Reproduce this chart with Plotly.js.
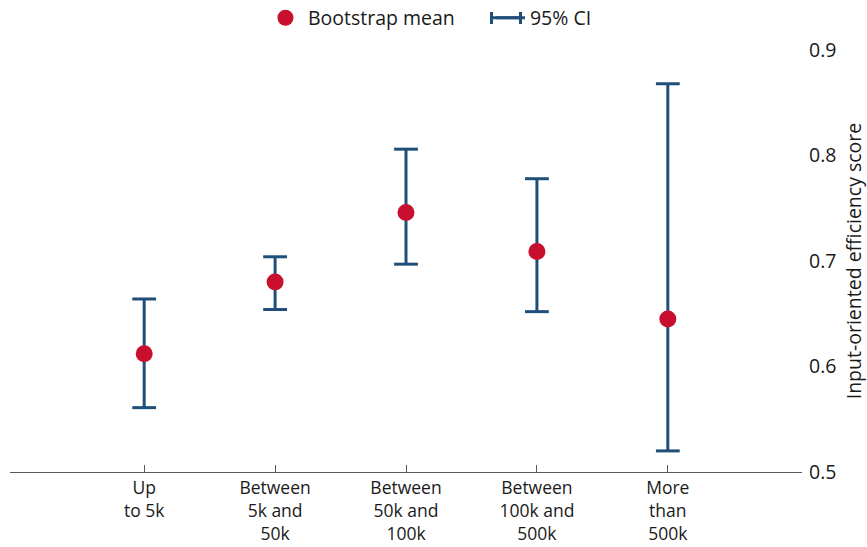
<!DOCTYPE html>
<html>
<head>
<meta charset="utf-8">
<script src="https://cdn.plot.ly/plotly-3.0.1.min.js"></script>
<style>html,body{margin:0;padding:0;background:#fff;}#chart{width:867px;height:547px;}</style>
</head>
<body>
<div id="chart"></div>
<script>
const categories = ["Up<br>to 5k", "Between<br>5k and<br>50k", "Between<br>50k and<br>100k", "Between<br>100k and<br>500k", "More<br>than<br>500k"];
const meanValues = [0.612, 0.680, 0.746, 0.709, 0.645];
const upperCI = [0.664, 0.704, 0.806, 0.778, 0.868];
const lowerCI = [0.561, 0.654, 0.697, 0.652, 0.520];
const yTicks = [0.5, 0.6, 0.7, 0.8, 0.9];
const yTickLabels = ["0.5", "0.6", "0.7", "0.8", "0.9"];

const blue = "#1F4E79";
const red = "#C8102E";
const font = "'Open Sans', Lato, sans-serif";

// CI segments built from data
const ciX = [], ciY = [];
categories.forEach((c, i) => { ciX.push(c, c, null); ciY.push(lowerCI[i], upperCI[i], null); });

const traces = [
  {
    type: "scatter", mode: "lines+markers", name: "95% CI",
    x: ciX, y: ciY,
    line: {color: blue, width: 3},
    marker: {symbol: "line-ew", size: 17, color: blue, line: {color: blue, width: 3}},
    hoverinfo: "skip", cliponaxis: false
  },
  {
    type: "scatter", mode: "markers", name: "Bootstrap mean",
    x: categories, y: meanValues,
    marker: {color: red, size: 17, symbol: "circle"},
    cliponaxis: false
  }
];

// legend-icon end caps for the CI entry (decoration)
const capShape = (px) => ({
  type: "line", xref: "paper", yref: "paper", layer: "above",
  xsizemode: "pixel", ysizemode: "pixel",
  xanchor: (px - 10) / 792, yanchor: (472 - 18) / 422,
  x0: 0, x1: 0, y0: -6, y1: 6,
  line: {color: blue, width: 3}
});

const layout = {
  width: 867, height: 547,
  margin: {l: 10, r: 65, t: 50, b: 75},
  paper_bgcolor: "#fff", plot_bgcolor: "#fff",
  font: {family: font, size: 18, color: "#1a1a1a"},
  showlegend: true,
  legend: {
    orientation: "h", traceorder: "reversed",
    xref: "container", yref: "container",
    x: 0.3033, xanchor: "left", y: 0.967, yanchor: "middle",
    bgcolor: "rgba(0,0,0,0)",
    font: {family: font, size: 19.5, color: "#1a1a1a"},
    itemwidth: 35, entrywidth: 172, entrywidthmode: "pixels"
  },
  shapes: [capShape(491.5), capShape(520.5)],
  xaxis: {
    type: "category", categoryorder: "array", categoryarray: categories,
    range: [-1.025, 5.025],
    showgrid: false, zeroline: false,
    showline: true, linecolor: "#595959", linewidth: 1.3,
    ticks: "inside", ticklen: 7, tickcolor: "#595959", tickwidth: 1,
    tickfont: {family: font, size: 17.5, color: "#1a1a1a"},
    fixedrange: true
  },
  yaxis: {
    side: "right", range: [0.5, 0.9],
    tickvals: yTicks, ticktext: yTickLabels,
    showgrid: false, zeroline: false, showline: false, ticks: "",
    ticklabelstandoff: 6,
    tickfont: {family: font, size: 19.5, color: "#1a1a1a"},
    title: {text: "Input-oriented efficiency score", font: {family: font, size: 19.5, color: "#1a1a1a"}, standoff: 11},
    fixedrange: true
  }
};

Plotly.newPlot("chart", traces, layout, {displayModeBar: false, staticPlot: true});
</script>
</body>
</html>
